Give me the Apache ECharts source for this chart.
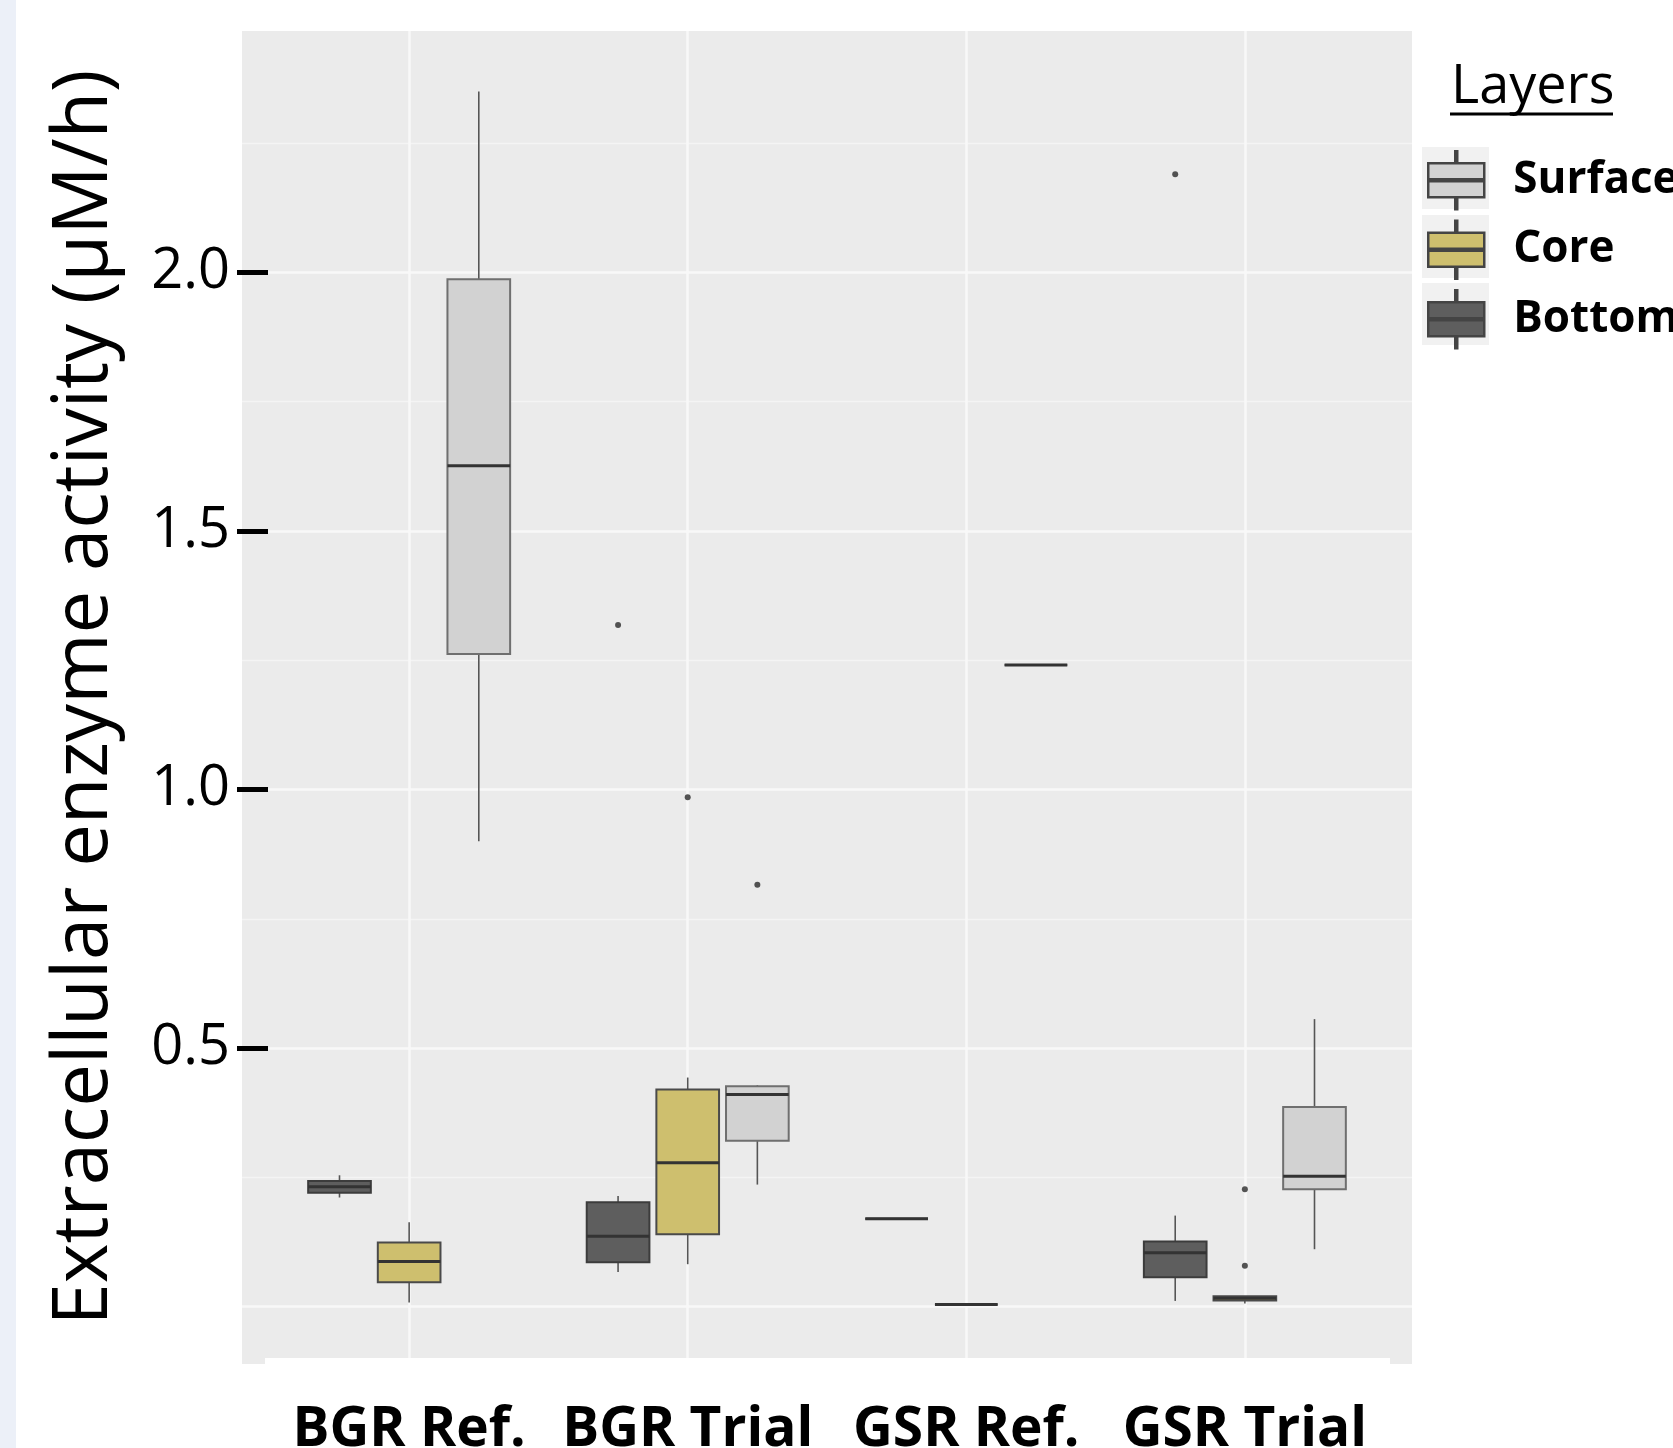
<!DOCTYPE html>
<html>
<head>
<meta charset="utf-8">
<title>Extracellular enzyme activity</title>
<script src="https://cdn.jsdelivr.net/npm/echarts@6/dist/echarts.min.js"></script>
<style>
  html, body {
    margin: 0;
    padding: 0;
    background: linear-gradient(to right, #ECF0F8 16px, #ffffff 16px);
  }
  #chart {
    width: 1673px;
    height: 1448px;
  }
</style>
</head>
<body>
<div id="chart"></div>
<script>
const groups = ['BGR Ref.', 'BGR Trial', 'GSR Ref.', 'GSR Trial'];
const layers = ['Surface', 'Core', 'Bottom'];

// five-number summaries per group: [min, Q1, median, Q3, max]
const bottomStats = [
  [0.211, 0.220, 0.232, 0.243, 0.254],
  [0.067, 0.086, 0.136, 0.202, 0.214],
  [0.170, 0.170, 0.170, 0.170, 0.170],
  [0.011, 0.057, 0.104, 0.126, 0.176]
];
const coreStats = [
  [0.008, 0.047, 0.087, 0.124, 0.163],
  [0.082, 0.140, 0.278, 0.420, 0.443],
  [0.004, 0.004, 0.004, 0.004, 0.004],
  [0.006, 0.012, 0.016, 0.020, 0.020]
];
const surfaceStats = [
  [0.900, 1.262, 1.626, 1.987, 2.350],
  [0.236, 0.321, 0.410, 0.426, 0.428],
  [1.241, 1.241, 1.241, 1.241, 1.241],
  [0.111, 0.227, 0.252, 0.386, 0.556]
];

// outliers: [group index, value]
const bottomOutliers = [[1, 1.318], [3, 2.190]];
const coreOutliers = [[1, 0.985], [3, 0.227], [3, 0.079]];
const surfaceOutliers = [[1, 0.816]];

const yTicks = [0.5, 1.0, 1.5, 2.0];
const yMajorGrid = [0, 0.5, 1.0, 1.5, 2.0];
const yMinorGrid = [0.25, 0.75, 1.25, 1.75, 2.25];
const xTicks = [1, 2, 3, 4];

// dodge: Bottom left, Core centre, Surface right
const DODGE = 0.25;
const BOX_WIDTH = 0.225;

const style = {
  Surface: { fill: '#D2D2D2', edge: '#6f6f6f', offset: DODGE },
  Core: { fill: '#CEBF6E', edge: '#4a4a4a', offset: 0 },
  Bottom: { fill: '#5E5E5E', edge: '#3c3c3c', offset: -DODGE }
};

function boxData(stats) {
  return stats.map((s, i) => [i + 1].concat(s));
}

function outlierData(list, offset) {
  return list.map(p => [p[0] + 1 + offset, p[1]]);
}

function boxRenderer(layer) {
  const st = style[layer];
  return function (params, api) {
    const x = api.value(0) + st.offset;
    const pMin = api.coord([x, api.value(1)]);
    const pQ1 = api.coord([x, api.value(2)]);
    const pMed = api.coord([x, api.value(3)]);
    const pQ3 = api.coord([x, api.value(4)]);
    const pMax = api.coord([x, api.value(5)]);
    const half = api.size([BOX_WIDTH, 0])[0] / 2;
    const whisker = { stroke: '#555555', lineWidth: 1.6 };
    return {
      type: 'group',
      children: [
        { type: 'line', shape: { x1: pMax[0], y1: pMax[1], x2: pQ3[0], y2: pQ3[1] }, style: whisker },
        { type: 'line', shape: { x1: pQ1[0], y1: pQ1[1], x2: pMin[0], y2: pMin[1] }, style: whisker },
        {
          type: 'rect',
          shape: { x: pQ3[0] - half, y: pQ3[1], width: half * 2, height: pQ1[1] - pQ3[1] },
          style: { fill: st.fill, stroke: st.edge, lineWidth: 2 }
        },
        {
          type: 'line',
          shape: { x1: pMed[0] - half, y1: pMed[1], x2: pMed[0] + half, y2: pMed[1] },
          style: { stroke: '#333333', lineWidth: 3 }
        }
      ]
    };
  };
}

const statsByLayer = { Surface: surfaceStats, Core: coreStats, Bottom: bottomStats };
const outliersByLayer = { Surface: surfaceOutliers, Core: coreOutliers, Bottom: bottomOutliers };

const series = [];
['Bottom', 'Core', 'Surface'].forEach(layer => {
  series.push({
    name: layer,
    type: 'custom',
    renderItem: boxRenderer(layer),
    itemStyle: { color: style[layer].fill },
    encode: { x: 0, y: [1, 2, 3, 4, 5] },
    data: boxData(statsByLayer[layer]),
    z: 3
  });
});
['Bottom', 'Core', 'Surface'].forEach(layer => {
  series.push({
    name: layer,
    type: 'scatter',
    symbolSize: 6,
    itemStyle: { color: '#2b2b2b' },
    data: outlierData(outliersByLayer[layer], style[layer].offset),
    z: 4
  });
});

const boxIcon = 'path://M29,0 L31,0 L31,12 L29,12 Z M2,12 L58,12 L58,46 L2,46 Z M2,28 L58,28 L58,30 L2,30 Z M29,46 L31,46 L31,58 L29,58 Z';

const font = '"Open Sans", "DejaVu Sans", sans-serif';
const yMin = -0.111;
const yMax = 2.467;

const chart = echarts.init(document.getElementById('chart'), null, { renderer: 'canvas' });
chart.setOption({
  animation: false,
  backgroundColor: 'transparent',
  grid: {
    left: 242,
    top: 31,
    width: 1170,
    height: 1333,
    show: true,
    backgroundColor: '#EBEBEB',
    borderWidth: 0,
    containLabel: false,
    outerBoundsMode: 'none'
  },
  title: {
    text: 'Layers',
    left: 1451,
    top: 61,
    padding: 0,
    textStyle: { fontFamily: font, fontSize: 54, fontWeight: 'normal', color: '#000' }
  },
  legend: {
    orient: 'vertical',
    left: 1427,
    top: 150,
    padding: 0,
    itemWidth: 58,
    itemHeight: 58,
    itemGap: 9,
    selectedMode: false,
    icon: boxIcon,
    textStyle: {
      fontFamily: font,
      fontSize: 44,
      fontWeight: 'bold',
      color: '#000',
      padding: [0, 0, 0, 23]
    },
    data: layers.map(l => ({
      name: l,
      itemStyle: { color: style[l].fill, borderColor: '#444444', borderWidth: 2.5 }
    }))
  },
  graphic: [
    { type: 'line', shape: { x1: 1450, y1: 114, x2: 1613, y2: 114 }, style: { stroke: '#000', lineWidth: 3 } },
    { type: 'rect', shape: { x: 1422, y: 147, width: 67, height: 62 }, style: { fill: '#F1F1F1' }, z: -1 },
    { type: 'rect', shape: { x: 1422, y: 215, width: 67, height: 63 }, style: { fill: '#F1F1F1' }, z: -1 },
    { type: 'rect', shape: { x: 1422, y: 283, width: 67, height: 62 }, style: { fill: '#F1F1F1' }, z: -1 },
    { type: 'rect', shape: { x: 265, y: 1358, width: 1125, height: 8 }, style: { fill: '#ffffff' }, z: 10 }
  ],
  xAxis: {
    type: 'value',
    min: 0.4,
    max: 4.6,
    axisLine: { show: false },
    axisTick: { show: false, customValues: xTicks },
    axisLabel: {
      customValues: xTicks,
      formatter: v => groups[Math.round(v) - 1],
      fontFamily: font,
      fontSize: 55,
      fontWeight: 'bold',
      color: '#000',
      margin: 39
    },
    splitLine: { show: true, lineStyle: { color: '#F8F8F8', width: 2.5 } }
  },
  yAxis: [
    {
      type: 'value',
      position: 'left',
      min: yMin,
      max: yMax,
      offset: 5,
      name: 'Extracellular enzyme activity (µM/h)',
      nameLocation: 'middle',
      nameRotate: 90,
      nameGap: 114,
      nameTextStyle: { fontFamily: font, fontSize: 76, color: '#000' },
      axisLine: { show: false },
      axisTick: { show: true, inside: true, length: 31, customValues: yTicks, lineStyle: { color: '#000', width: 5 } },
      axisLabel: {
        customValues: yTicks,
        formatter: v => v.toFixed(1),
        fontFamily: font,
        fontSize: 56,
        color: '#000',
        margin: 7
      },
      splitLine: { show: false }
    },
    {
      type: 'value',
      position: 'left',
      min: yMin,
      max: yMax,
      axisLine: { show: false },
      axisTick: { show: false, customValues: yMajorGrid },
      axisLabel: { show: false },
      splitLine: { show: true, lineStyle: { color: '#F8F8F8', width: 2.5 } }
    },
    {
      type: 'value',
      position: 'left',
      min: yMin,
      max: yMax,
      axisLine: { show: false },
      axisTick: { show: false, customValues: yMinorGrid },
      axisLabel: { show: false },
      splitLine: { show: true, lineStyle: { color: '#F4F4F4', width: 1.3 } }
    }
  ],
  series: series
});
</script>
</body>
</html>
